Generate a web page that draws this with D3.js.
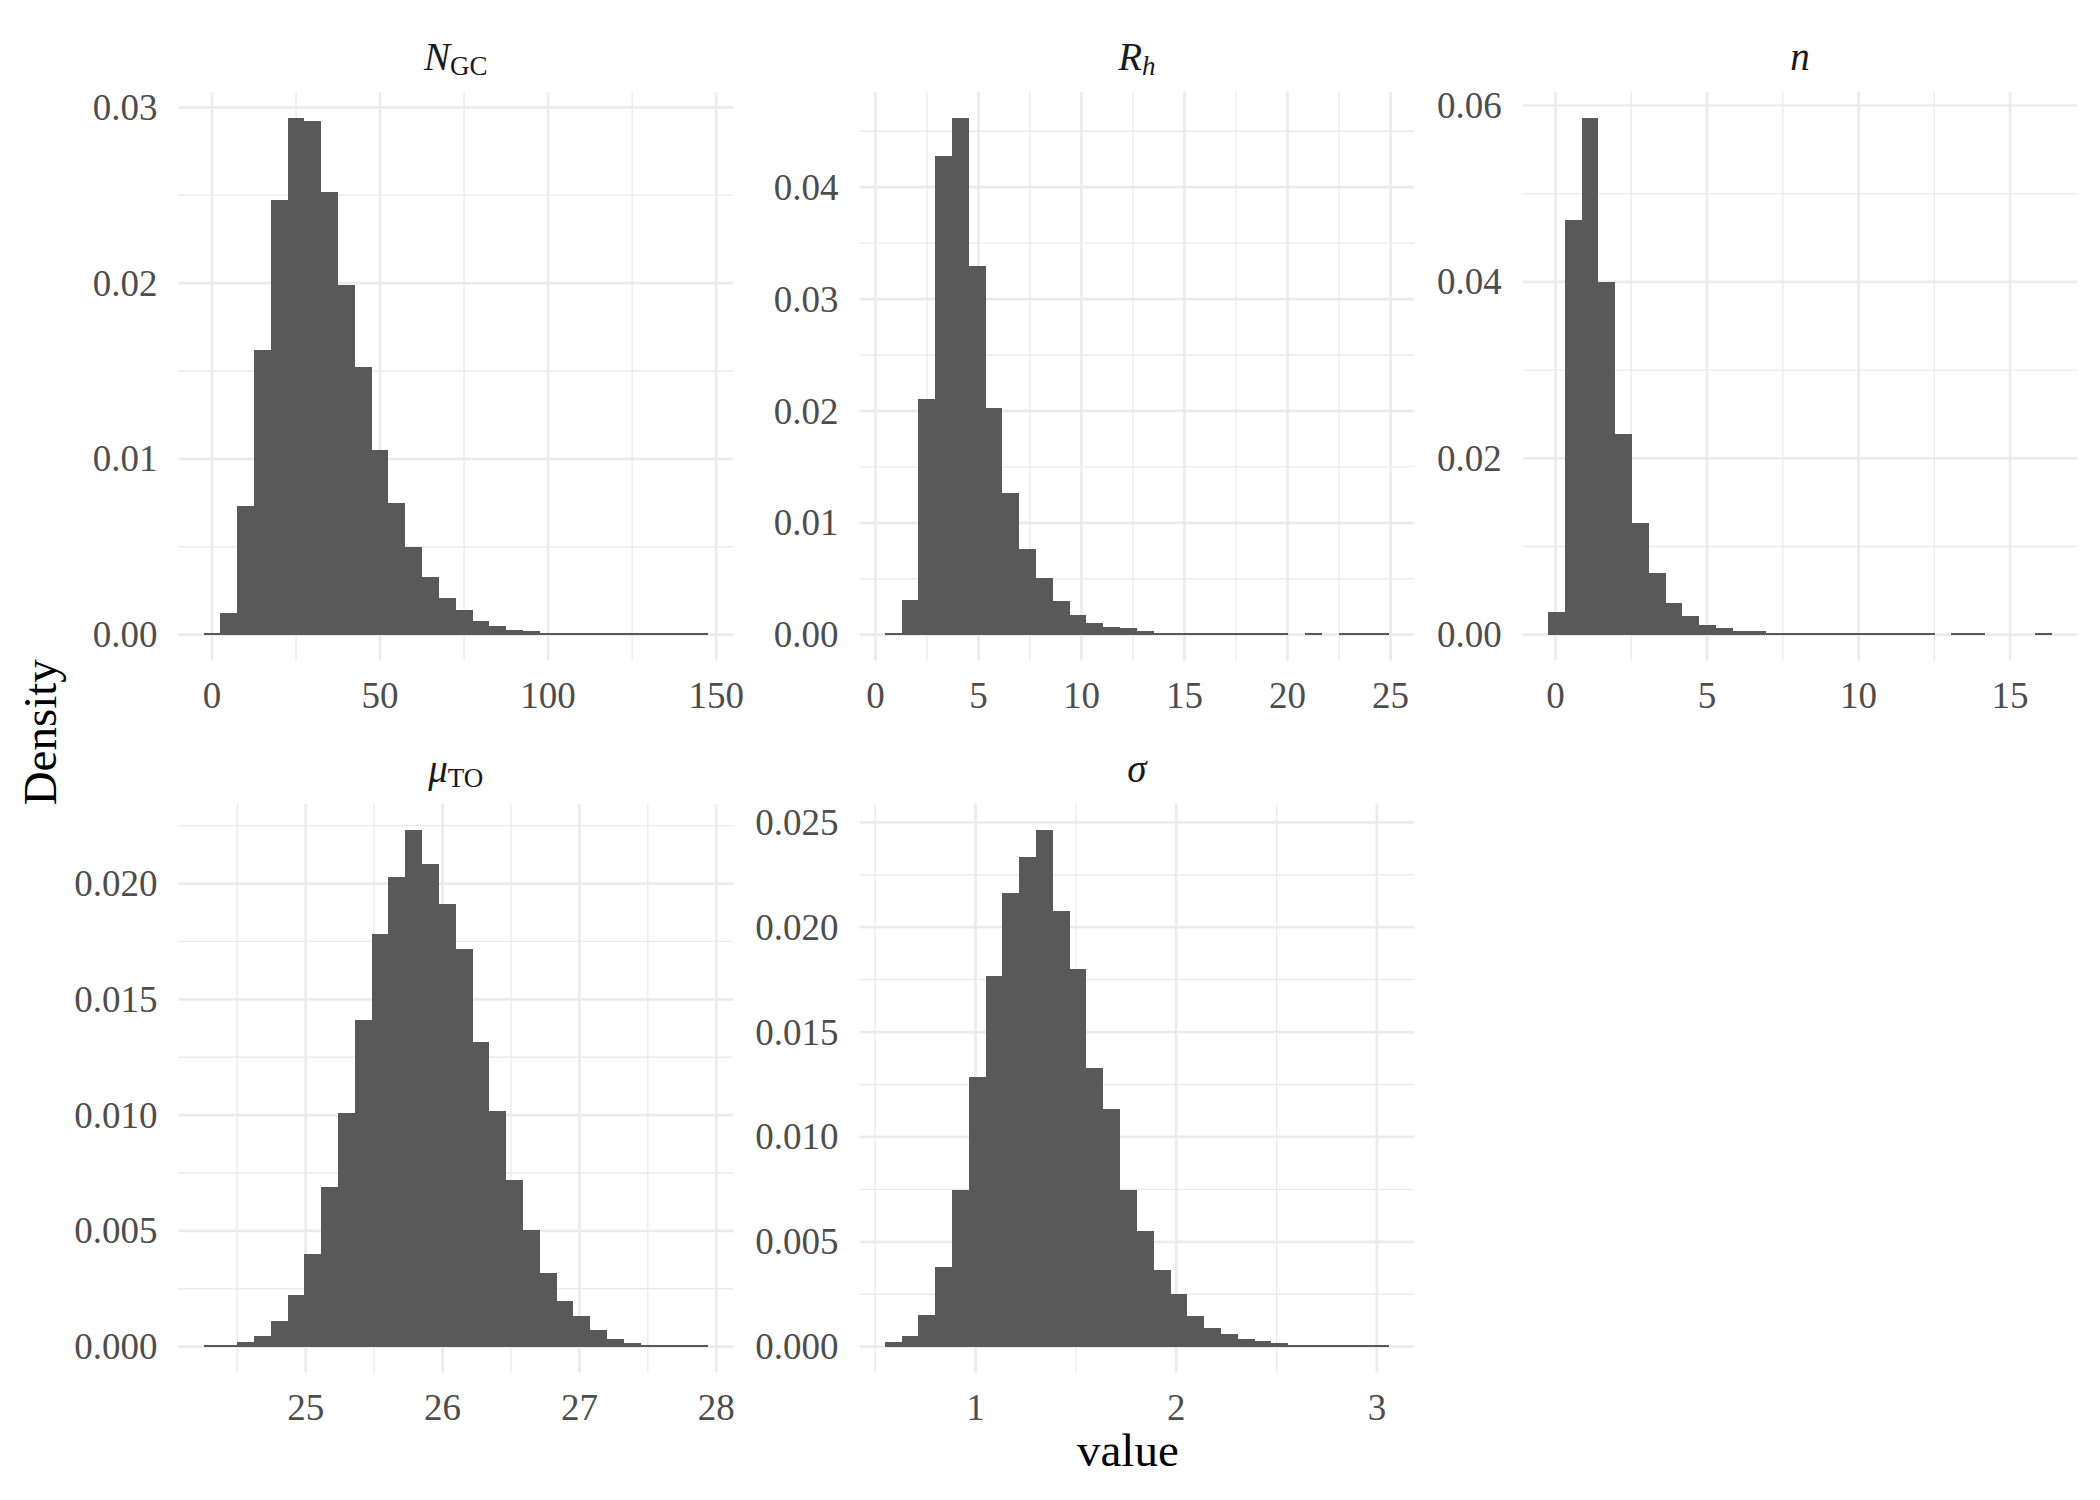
<!DOCTYPE html>
<html><head><meta charset="utf-8">
<script src="https://cdn.jsdelivr.net/npm/d3@7"></script>
<style>body{margin:0;background:#fff;} svg{display:block;}</style>
</head><body>
<svg id="chart" width="2100" height="1500"></svg>
<script>
// ---------- data ----------
const panelIds = ["N_GC", "R_h", "n", "mu_TO", "sigma"];

const ngcBinStart = -2.5, ngcBinWidth = 5.0;
const ngcDensity = [0.00002, 0.00125, 0.0073, 0.0162, 0.0247, 0.0294, 0.0292, 0.0252, 0.0199, 0.0152,
  0.0105, 0.0075, 0.0050, 0.0033, 0.0021, 0.0014, 0.0008, 0.00047, 0.00029, 0.00018,
  0.0001, 0.00006, 0.00004, 0.00003, 0.00002, 0.00002, 0.00001, 0.00001, 0.00001, 0.00001];
const ngcXTicks = [0, 50, 100, 150];
const ngcYTicks = [0, 0.01, 0.02, 0.03];
const ngcYLabels = ["0.00", "0.01", "0.02", "0.03"];

const rhBinStart = 0.455, rhBinWidth = 0.8157;
const rhDensity = [0.00002, 0.0031, 0.0211, 0.0428, 0.0462, 0.0330, 0.0203, 0.0127, 0.0077, 0.0051,
  0.0030, 0.00177, 0.00105, 0.00069, 0.00057, 0.00033, 0.00005, 0.00005, 0.00004, 0.00004,
  0.00004, 0.00002, 0.00002, 0.00002, 0, 0.00002, 0, 0.00002, 0.00002, 0.00002];
const rhXTicks = [0, 5, 10, 15, 20, 25];
const rhYTicks = [0, 0.01, 0.02, 0.03, 0.04];
const rhYLabels = ["0.00", "0.01", "0.02", "0.03", "0.04"];

const nBinStart = -0.25, nBinWidth = 0.5547;
const nDensity = [0.0026, 0.0470, 0.0586, 0.0400, 0.0228, 0.0127, 0.0070, 0.0036, 0.0021, 0.00114,
  0.00078, 0.00043, 0.00043, 0.0002, 0.00008, 0.00008, 0.00008, 0.00003, 0.00003, 0.00003,
  0.00003, 0.00003, 0.00003, 0, 0.00002, 0.00002, 0, 0, 0, 0.00002];
const nXTicks = [0, 5, 10, 15];
const nYTicks = [0, 0.02, 0.04, 0.06];
const nYLabels = ["0.00", "0.02", "0.04", "0.06"];

const muBinStart = 24.254, muBinWidth = 0.1228;
const muDensity = [0.00003, 0.00005, 0.00018, 0.00045, 0.00112, 0.00224, 0.00401, 0.0069, 0.01008, 0.01409,
  0.01782, 0.02028, 0.02232, 0.02086, 0.01912, 0.01719, 0.01316, 0.01018, 0.00721, 0.00505,
  0.0032, 0.00196, 0.00134, 0.00073, 0.00035, 0.00016, 0.00008, 0.00004, 0.00003, 0.00002];
const muXTicks = [25, 26, 27, 28];
const muYTicks = [0, 0.005, 0.010, 0.015, 0.020];
const muYLabels = ["0.000", "0.005", "0.010", "0.015", "0.020"];

const sigmaBinStart = 0.548, sigmaBinWidth = 0.08374;
const sigmaDensity = [0.0002, 0.0005, 0.00153, 0.00382, 0.00749, 0.01286, 0.01767, 0.02165, 0.02334, 0.02464,
  0.02077, 0.01801, 0.01329, 0.01133, 0.00746, 0.00553, 0.00364, 0.00252, 0.00144, 0.0009,
  0.00058, 0.00038, 0.00025, 0.00016, 0.00009, 0.00005, 0.00003, 0.00003, 0.00002, 0.00001];
const sigmaXTicks = [1, 2, 3];
const sigmaYTicks = [0, 0.005, 0.010, 0.015, 0.020, 0.025];
const sigmaYLabels = ["0.000", "0.005", "0.010", "0.015", "0.020", "0.025"];

// strip titles: [text, italic, subscript]
const stripTitles = [
  [["N", true, false], ["GC", false, true]],
  [["R", true, false], ["h", true, true]],
  [["n", true, false]],
  [["μ", true, false], ["TO", false, true]],
  [["σ", true, false]]
];
const xAxisTitle = "value";
const yAxisTitle = "Density";

// ---------- assemble ----------
const panels = [
  {start: ngcBinStart, width: ngcBinWidth, dens: ngcDensity, xt: ngcXTicks, yt: ngcYTicks, yl: ngcYLabels},
  {start: rhBinStart, width: rhBinWidth, dens: rhDensity, xt: rhXTicks, yt: rhYTicks, yl: rhYLabels},
  {start: nBinStart, width: nBinWidth, dens: nDensity, xt: nXTicks, yt: nYTicks, yl: nYLabels},
  {start: muBinStart, width: muBinWidth, dens: muDensity, xt: muXTicks, yt: muYTicks, yl: muYLabels},
  {start: sigmaBinStart, width: sigmaBinWidth, dens: sigmaDensity, xt: sigmaXTicks, yt: sigmaYTicks, yl: sigmaYLabels}
];

const FONT = "'Liberation Serif', 'Times New Roman', serif";
const colLeft = [178.4, 859.6, 1522.8], panelW = 554.6;
const rowTop = [92, 804], panelH = 568.5;
const GRID = "#ebebeb", BAR = "#595959";

const svg = d3.select("#chart");
svg.append("rect").attr("width", 2100).attr("height", 1500).attr("fill", "#fff");

function minorOf(ticks, dom) {
  const step = ticks[1] - ticks[0];
  const out = [];
  for (let i = -1; i <= ticks.length; i++) {
    const m = ticks[0] + step * i + step / 2;
    if (m >= dom[0] && m <= dom[1]) out.push(m);
  }
  return out;
}

panels.forEach((p, i) => {
  const row = Math.floor(i / 3), col = i % 3;
  const x0 = colLeft[col], y0 = rowTop[row];
  const n = p.dens.length;
  const bins = p.dens.map((d, k) => ({x0: p.start + k * p.width, x1: p.start + (k + 1) * p.width, d}));
  const xmin = bins[0].x0, xmax = bins[n - 1].x1;
  const xpad = (xmax - xmin) * 0.05;
  const ymax = d3.max(p.dens), ypad = ymax * 0.05;
  const x = d3.scaleLinear().domain([xmin - xpad, xmax + xpad]).range([0, panelW]);
  const y = d3.scaleLinear().domain([-ypad, ymax + ypad]).range([panelH, 0]);

  const g = svg.append("g").attr("transform", `translate(${x0},${y0})`);
  const grid = g.append("g");
  minorOf(p.yt, y.domain()).forEach(v => grid.append("line")
    .attr("x1", 0).attr("x2", panelW).attr("y1", y(v)).attr("y2", y(v))
    .attr("stroke", GRID).attr("stroke-width", 1.35));
  minorOf(p.xt, x.domain()).forEach(v => grid.append("line")
    .attr("y1", 0).attr("y2", panelH).attr("x1", x(v)).attr("x2", x(v))
    .attr("stroke", GRID).attr("stroke-width", 1.35));
  p.yt.forEach(v => grid.append("line")
    .attr("x1", 0).attr("x2", panelW).attr("y1", y(v)).attr("y2", y(v))
    .attr("stroke", GRID).attr("stroke-width", 2.7));
  p.xt.forEach(v => grid.append("line")
    .attr("y1", 0).attr("y2", panelH).attr("x1", x(v)).attr("x2", x(v))
    .attr("stroke", GRID).attr("stroke-width", 2.7));

  g.append("g").selectAll("rect").data(bins.filter(b => b.d > 0)).join("rect")
    .attr("x", b => x(b.x0))
    .attr("width", b => x(b.x1) - x(b.x0))
    .attr("y", b => Math.min(y(b.d), y(0) - 1.2))
    .attr("height", b => Math.max(y(0) - y(b.d), 1.2))
    .attr("fill", BAR)
    .attr("shape-rendering", "crispEdges");

  g.append("g").selectAll("text").data(p.yt).join("text")
    .attr("x", -21).attr("y", v => y(v)).attr("dy", "0.34em")
    .attr("text-anchor", "end")
    .attr("font-family", FONT).attr("font-size", 37).attr("fill", "#4d4d4d")
    .text((v, k) => p.yl[k]);
  g.append("g").selectAll("text").data(p.xt).join("text")
    .attr("x", v => x(v)).attr("y", panelH + 47)
    .attr("text-anchor", "middle")
    .attr("font-family", FONT).attr("font-size", 37).attr("fill", "#4d4d4d")
    .text(v => String(v));

  const t = g.append("text")
    .attr("x", panelW / 2).attr("y", -22)
    .attr("text-anchor", "middle")
    .attr("font-family", FONT).attr("font-size", 39).attr("fill", "#1a1a1a");
  stripTitles[i].forEach(([txt, ital, sub]) => {
    const ts = t.append("tspan").text(txt)
      .attr("font-style", ital ? "italic" : "normal");
    if (sub) { ts.attr("font-size", 27).attr("dy", 5); }
  });
});

svg.append("text")
  .attr("x", (colLeft[0] + colLeft[2] + panelW) / 2).attr("y", 1466)
  .attr("text-anchor", "middle")
  .attr("font-family", FONT).attr("font-size", 47).attr("fill", "#000")
  .text(xAxisTitle);
svg.append("text")
  .attr("transform", `translate(56,${(rowTop[0] + rowTop[1] + panelH) / 2}) rotate(-90)`)
  .attr("text-anchor", "middle")
  .attr("font-family", FONT).attr("font-size", 47).attr("fill", "#000")
  .text(yAxisTitle);
</script>
</body></html>
